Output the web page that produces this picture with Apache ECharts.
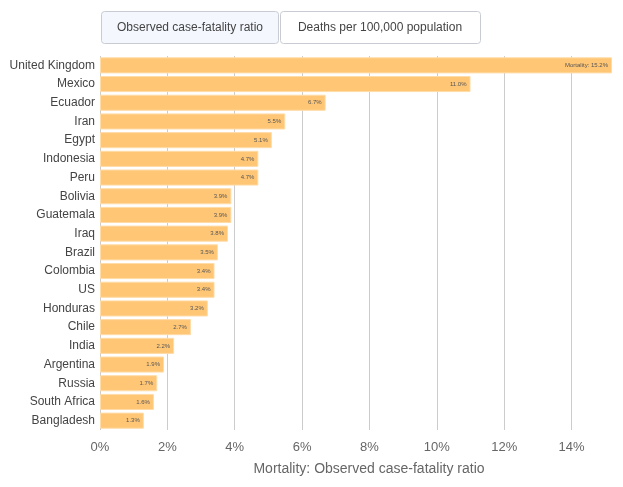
<!DOCTYPE html>
<html><head><meta charset="utf-8">
<script src="https://cdn.jsdelivr.net/npm/echarts@6/dist/echarts.min.js"></script>
<style>html,body{margin:0;padding:0;background:#fff}#c{width:623px;height:487px}</style>
</head><body><div id="c"></div>
<script>
const countries = ["United Kingdom","Mexico","Ecuador","Iran","Egypt","Indonesia","Peru","Bolivia","Guatemala","Iraq","Brazil","Colombia","US","Honduras","Chile","India","Argentina","Russia","South Africa","Bangladesh"];
const cfr = [15.2,11.0,6.7,5.5,5.1,4.7,4.7,3.9,3.9,3.8,3.5,3.4,3.4,3.2,2.7,2.2,1.9,1.7,1.6,1.3];
const xTicks = [0,2,4,6,8,10,12,14];
const buttons = ["Observed case-fatality ratio","Deaths per 100,000 population"];
const axisTitle = "Mortality: Observed case-fatality ratio";

const chart = echarts.init(document.getElementById('c'));
chart.setOption({
  animation: false,
  textStyle: {fontFamily: 'sans-serif'},
  grid: {left: 100, right: 11, top: 56, bottom: 57, containLabel: false},
  xAxis: {
    type: 'value', min: 0, max: 15.2, interval: 2,
    axisLine: {show: false}, axisTick: {show: false},
    splitLine: {lineStyle: {color: '#cccccc'}, showMaxLine: false},
    axisLabel: {color: '#666', fontSize: 13, margin: 11, showMaxLabel: false,
      formatter: v => xTicks.includes(v) ? v + '%' : ''}
  },
  yAxis: {
    type: 'category', data: countries, inverse: true,
    axisLine: {show: false}, axisTick: {show: false},
    axisLabel: {color: '#444', fontSize: 12, margin: 5}
  },
  series: [{
    type: 'bar', data: cfr, barCategoryGap: '14%',
    itemStyle: {color: '#ffc675', borderColor: '#ffdca8', borderWidth: 1},
    label: {show: true, position: 'insideRight', fontSize: 6, color: '#555', distance: 4,
      formatter: p => (p.dataIndex === 0 ? 'Mortality: ' : '') + p.value.toFixed(1) + '%'}
  }],
  graphic: [
    {type: 'rect', shape: {x: 101.5, y: 11.5, width: 177, height: 32, r: 3},
     style: {fill: '#f4f8fe', stroke: '#c8ccd2', lineWidth: 1}},
    {type: 'text', x: 190, y: 27.5, style: {text: buttons[0], fontSize: 12, fill: '#444', align: 'center', verticalAlign: 'middle', fontFamily: 'sans-serif'}},
    {type: 'rect', shape: {x: 280.5, y: 11.5, width: 200, height: 32, r: 3},
     style: {fill: '#ffffff', stroke: '#c8ccd2', lineWidth: 1}},
    {type: 'text', x: 380, y: 27.5, style: {text: buttons[1], fontSize: 12, fill: '#444', align: 'center', verticalAlign: 'middle', fontFamily: 'sans-serif'}},
    {type: 'text', x: 369, y: 469, style: {text: axisTitle, fontSize: 14, fill: '#666', align: 'center', verticalAlign: 'middle', fontFamily: 'sans-serif'}}
  ]
});
</script></body></html>
